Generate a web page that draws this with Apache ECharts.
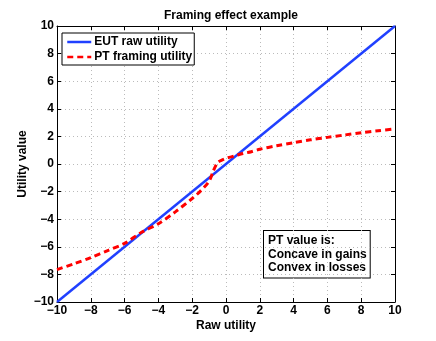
<!DOCTYPE html>
<html lang="en">
<head>
    <meta charset="UTF-8">
    <title>Framing effect example</title>
    <script src="https://cdn.jsdelivr.net/npm/echarts@6.0.0/dist/echarts.min.js"></script>
    <style>
        html, body { margin: 0; padding: 0; background: #fff; }
        #chart { width: 436px; height: 341px; }
    </style>
</head>
<body>
<div id="chart"></div>
<script>
    // raw utility (x) and the two utility curves
    var eutX = [-10, 10];
    var eutY = [-10, 10];
    var ptX = [-10, -9, -8, -7, -6, -5, -4, -3, -2, -1.5, -1, -0.75, -0.5, -0.25, 0, 0.5, 1, 1.5, 2, 3, 4, 5, 6, 7, 8, 9, 10];
    var ptY = [-7.65, -7.23, -6.78, -6.27, -5.75, -4.95, -4.33, -3.47, -2.5, -1.95, -1.25, -0.5, 0.1, 0.28, 0.41, 0.58, 0.76, 0.89, 1.07, 1.32, 1.54, 1.75, 1.93, 2.1, 2.27, 2.41, 2.54];
    var ticks = [-10, -8, -6, -4, -2, 0, 2, 4, 6, 8, 10];
    var noteLines = ['PT value is:', 'Concave in gains', 'Convex in losses'];

    function pairs(xs, ys) {
        var out = [];
        for (var i = 0; i < xs.length; i++) out.push([xs[i], ys[i]]);
        return out;
    }

    var font = 'Liberation Sans, Arial, sans-serif';
    var lbl = { color: '#000', fontWeight: 'bold', fontSize: 12, fontFamily: font };

    function axis(pos, name, main) {
        return {
            type: 'value', position: pos, min: ticks[0], max: ticks[ticks.length - 1], interval: 2,
            name: main ? name : '', nameLocation: 'middle', nameMoveOverlap: false,
            nameGap: pos === 'left' ? 28 : 18,
            nameTextStyle: { color: '#000', fontWeight: 'bold', fontSize: 12, fontFamily: font },
            axisLine: { show: true, onZero: false, lineStyle: { color: '#000', width: 1 } },
            axisTick: { show: true, inside: true, length: 4, lineStyle: { color: '#000' } },
            axisLabel: main ? Object.assign({ margin: 3, formatter: function (v) { return String(v).replace('-', '\u2212'); } }, lbl) : { show: false },
            splitLine: { show: main, lineStyle: { color: '#bbb', type: [1, 3], width: 1 } }
        };
    }

    var chart = echarts.init(document.getElementById('chart'));
    chart.setOption({
        animation: false,
        title: {
            text: 'Framing effect example', left: 226, top: 5, textAlign: 'center',
            textStyle: { color: '#000', fontWeight: 'bold', fontSize: 12, fontFamily: font }
        },
        grid: { left: 57, right: 41, top: 26, bottom: 39 },
        xAxis: [axis('bottom', 'Raw utility', true), axis('top', '', false)],
        yAxis: [axis('left', 'Utility value', true), axis('right', '', false)],
        legend: {
            orient: 'vertical', left: 62, top: 33,
            backgroundColor: '#fff', borderColor: '#000', borderWidth: 1,
            padding: [3, 2, 2, 4], itemGap: 3, itemWidth: 24, itemHeight: 12,
            itemStyle: { color: 'transparent', borderWidth: 0, opacity: 0 },
            lineStyle: { width: 2.5 },
            textStyle: { color: '#000', fontWeight: 'bold', fontSize: 12, fontFamily: font, padding: [0, 0, 0, -2] },
            data: ['EUT raw utility', 'PT framing utility']
        },
        series: [
            {
                name: 'EUT raw utility', type: 'line', showSymbol: false, symbol: 'none',
                lineStyle: { color: '#2040ff', width: 2.5 }, itemStyle: { color: '#2040ff' },
                data: pairs(eutX, eutY)
            },
            {
                name: 'PT framing utility', type: 'line', showSymbol: false, symbol: 'none', smooth: 0.3,
                lineStyle: { color: '#ff0000', width: 3, type: [6, 4] }, itemStyle: { color: '#ff0000' },
                data: pairs(ptX, ptY)
            }
        ],
        graphic: [{
            type: 'text', left: 263, top: 230,
            style: {
                text: noteLines.join('\n'), fill: '#000', font: 'bold 12px ' + font,
                lineHeight: 13.5, backgroundColor: '#fff', borderColor: '#000', borderWidth: 1,
                padding: [3, 3, 3, 4]
            }
        }]
    });
</script>
</body>
</html>
